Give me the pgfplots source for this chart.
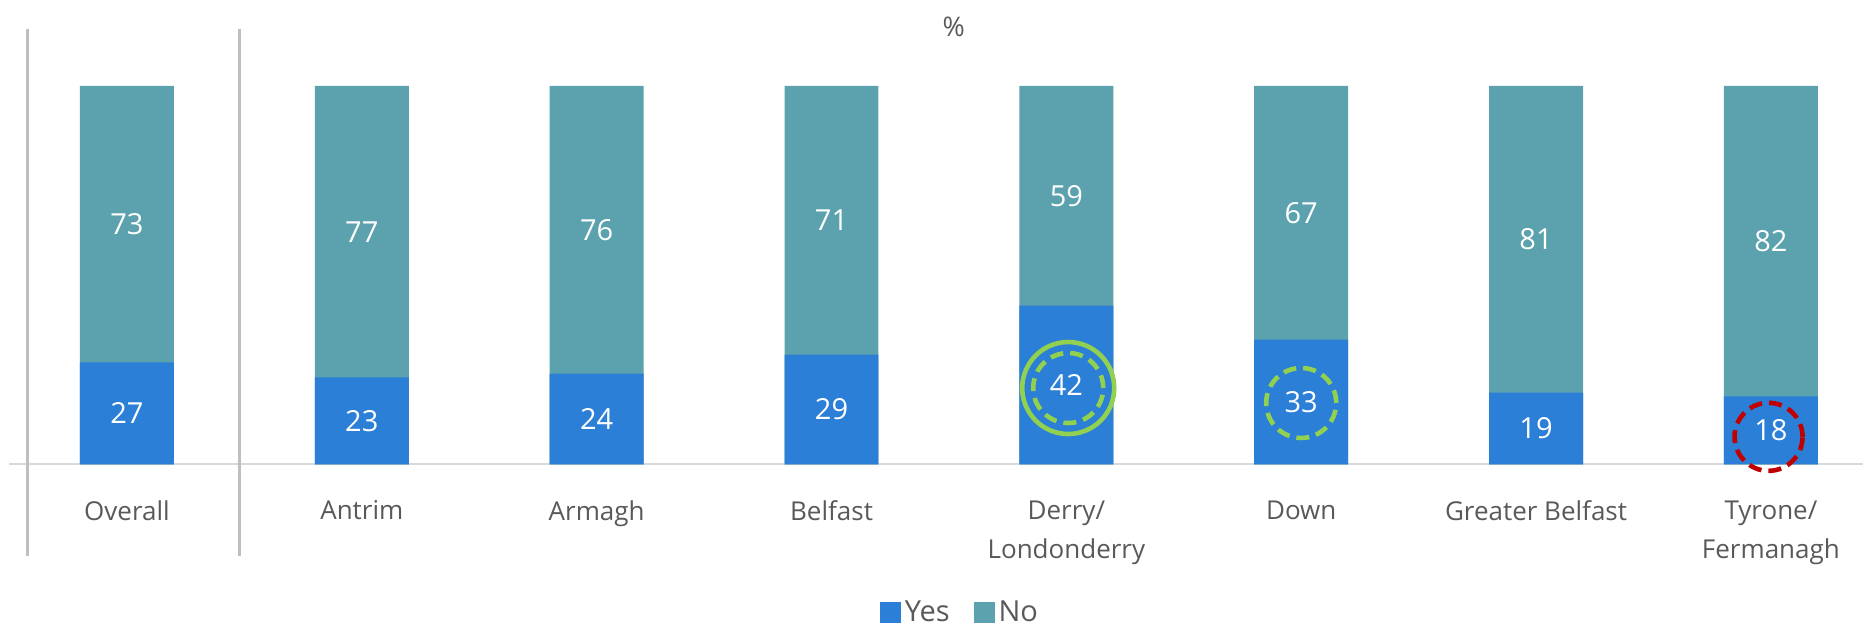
\documentclass[border=0pt]{standalone}
\usepackage{fontspec}
\setmainfont{Open Sans}
\usepackage{pgfplots}
\pgfplotsset{compat=1.18}
\definecolor{yesC}{RGB}{43,127,214}
\definecolor{noC}{RGB}{91,162,174}
\definecolor{txt}{RGB}{89,89,89}
\definecolor{sepC}{RGB}{191,191,191}
\definecolor{axl}{RGB}{217,217,217}
\definecolor{grn}{RGB}{146,208,80}
\definecolor{dred}{RGB}{192,0,0}
\begin{document}
\begin{tikzpicture}
\path[use as bounding box] (-4.75pt,-80.75pt) rectangle (931.3pt,232.25pt);
\begin{axis}[
 at={(0,0)}, anchor=south west,
 scale only axis, width=926.55pt, height=189.25pt,
 xmin=-0.5, xmax=7.39, ymin=0, ymax=100,
 clip=false,
 hide y axis,
 axis x line=bottom,
 x axis line style={draw=axl, line width=1pt, -},
 xtick={0,...,7},
 xticklabels={Overall, Antrim, Armagh, Belfast, {Derry/\\Londonderry}, Down, Greater Belfast, {Tyrone/\\Fermanagh}},
 major tick length=0pt,
 xticklabel style={font=\fontsize{13}{19.5}\selectfont, text=txt, align=center, anchor=north, inner sep=0pt, yshift=-18pt},
 legend style={at={(0.5135,0)}, anchor=center, yshift=-74pt, draw=none, legend columns=2, font=\fontsize{14.5}{17}\selectfont, text=txt, /tikz/every even column/.append style={column sep=10pt}},
 legend cell align=left,
]
\addlegendimage{legend image code/.code={\fill[yesC] (0pt,-5pt) rectangle (10pt,5pt);}}
\addlegendentry{Yes}
\addlegendimage{legend image code/.code={\fill[noC] (0pt,-5pt) rectangle (10pt,5pt);}}
\addlegendentry{No}
% No segment (full 100% bar, Yes drawn over it)
\addplot[ybar, bar width=0.4, fill=noC, draw=none, forget plot] coordinates {(0,100) (1,100) (2,100) (3,100) (4,100) (5,100) (6,100) (7,100)};
% Yes segment
\addplot[ybar, bar width=0.4, fill=yesC, draw=none, forget plot] coordinates {(0,27) (1,23) (2,24) (3,29) (4,42) (5,33) (6,19) (7,18)};
% Yes labels
\addplot[draw=none, mark=none, forget plot, nodes near coords, point meta=explicit symbolic,
  every node near coord/.style={anchor=center, text=white, font=\fontsize{14.5}{17}\selectfont}]
  coordinates {(0,13.5)[27] (1,11.5)[23] (2,12)[24] (3,14.5)[29] (4,21)[42] (5,16.5)[33] (6,9.5)[19] (7,9)[18]};
% No labels
\addplot[draw=none, mark=none, forget plot, nodes near coords, point meta=explicit symbolic,
  every node near coord/.style={anchor=center, text=white, font=\fontsize{14.5}{17}\selectfont}]
  coordinates {(0,63.5)[73] (1,61.5)[77] (2,62)[76] (3,64.5)[71] (4,71)[59] (5,66.5)[67] (6,59.5)[81] (7,59)[82]};
% separators
\draw[sepC, line width=1.5pt] (axis cs:-0.424,115.1) -- (axis cs:-0.424,-24.3);
\draw[sepC, line width=1.5pt] (axis cs:0.48,115.1) -- (axis cs:0.48,-24.3);
% title
\node[font=\fontsize{13.5}{16}\selectfont, text=txt] at (axis cs:3.52,115.5) {\%};
% highlight circles
\draw[grn, line width=2.3pt] (axis cs:4.008,20.2) circle[radius=23pt];
\draw[grn, line width=2.3pt, dash pattern=on 6.5pt off 3.5pt] (axis cs:4.008,20.2) circle[radius=17.5pt];
\draw[grn, line width=2.3pt, dash pattern=on 6.5pt off 3.5pt] (axis cs:5.0,16.25) circle[radius=17.5pt];
\draw[dred, line width=2.3pt, dash pattern=on 6.5pt off 3.5pt] (axis cs:6.99,7.3) circle[radius=17pt];
\end{axis}
\end{tikzpicture}
\end{document}
